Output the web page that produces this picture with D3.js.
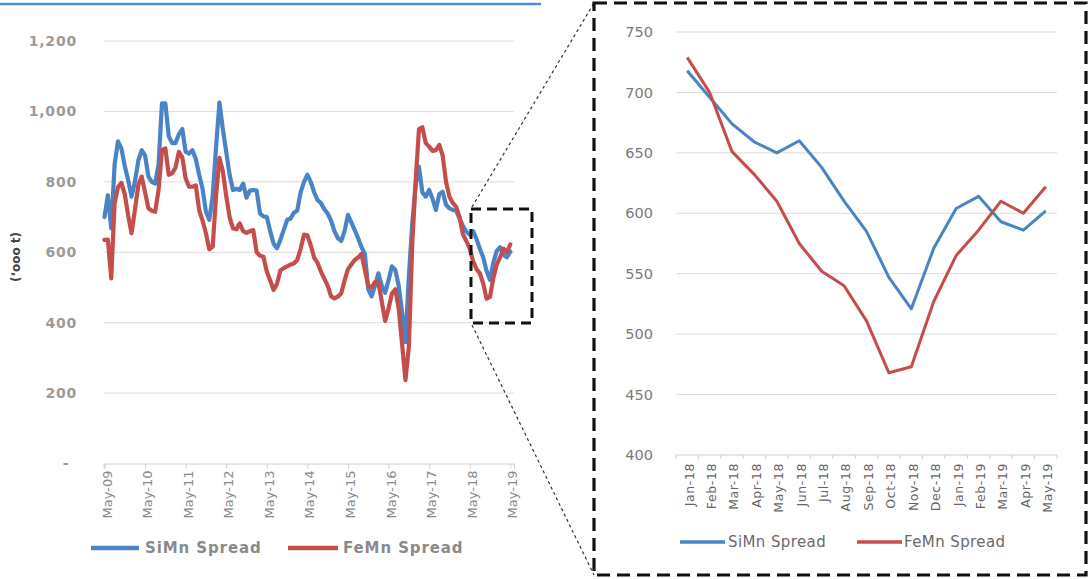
<!DOCTYPE html>
<html>
<head>
<meta charset="utf-8">
<script src="https://cdn.jsdelivr.net/npm/d3@7/dist/d3.min.js"></script>
<style>
  html, body { margin: 0; padding: 0; background: #fff; }
  svg { display: block; }
</style>
</head>
<body>
<svg id="chart" width="1088" height="579"></svg>
<script>
// ---- Long history: monthly spreads May-09 .. Dec-17 ('000 t) ----
const historySiMn = [
  700, 762, 668, 850, 915, 895, 845, 805, 758, 800,
  860, 890, 875, 815, 800, 795, 850, 1023, 1023, 930,
  910, 910, 935, 950, 885, 880, 890, 865, 820, 780,
  715, 692, 760, 900, 1025, 950, 885, 820, 777, 780,
  777, 795, 755, 775, 777, 775, 710, 702, 700, 660,
  625, 611, 635, 663, 692, 695, 712, 718, 770, 800,
  820, 800, 770, 748, 740, 722, 710, 690, 660, 640,
  632, 660, 706, 685, 663, 640, 615, 595, 495, 475,
  505, 540, 505, 485, 520, 560, 550, 505, 430, 345,
  530, 680, 790, 843, 770, 758, 777, 752, 720, 765,
  772, 735, 725, 720
];
const historyFeMn = [
  635, 636, 526, 740, 785, 797, 765, 705, 654, 720,
  790, 815, 770, 725, 718, 715, 777, 890, 895, 820,
  824, 840, 885, 870, 810, 786, 786, 790, 720, 690,
  654, 608, 616, 760, 868, 830, 760, 700, 668, 665,
  682, 660, 655, 660, 663, 600, 590, 587, 545, 520,
  493, 510, 548, 555, 560, 565, 568, 578, 610, 650,
  648, 620, 585, 570, 545, 525, 505, 475, 469, 474,
  483, 520, 552, 565, 578, 585, 595, 550, 505, 500,
  515, 515, 460, 405, 440, 483, 495, 440, 340, 237,
  330, 620, 800, 950, 955, 910, 900, 888, 890, 905,
  875, 800, 758, 740
];

// ---- Recent window: Jan-18 .. May-19 ----
const recentMonths = ["Jan-18","Feb-18","Mar-18","Apr-18","May-18","Jun-18","Jul-18","Aug-18",
  "Sep-18","Oct-18","Nov-18","Dec-18","Jan-19","Feb-19","Mar-19","Apr-19","May-19"];
const recentSiMn = [718, 696, 674, 659, 650, 660, 638, 610, 585, 547, 521, 571, 604, 614, 593, 586, 602];
const recentFeMn = [729, 700, 651, 632, 610, 575, 552, 540, 511, 468, 473, 527, 565, 586, 610, 600, 622];

const yearLabels = ["May-09","May-10","May-11","May-12","May-13","May-14","May-15",
  "May-16","May-17","May-18","May-19"];
const leftYTicks = [0, 200, 400, 600, 800, 1000, 1200];
const rightYTicks = [400, 450, 500, 550, 600, 650, 700, 750];
const seriesNames = ["SiMn Spread", "FeMn Spread"];

const fullSiMn = historySiMn.concat(recentSiMn);
const fullFeMn = historyFeMn.concat(recentFeMn);

const BLUE = "#4a84c4";
const RED = "#c44e4b";
const GRID = "#dcdcdc";
const FONT = "DejaVu Sans, Verdana, sans-serif";

const svg = d3.select("#chart");

// header rule above the long chart
svg.append("line").attr("x1", 0).attr("x2", 541).attr("y1", 4).attr("y2", 4)
  .attr("stroke", "#4a8fd8").attr("stroke-width", 2.5);

// ================= Long chart =================
const L = svg.append("g");
const xL = d3.scaleLinear().domain([-0.26, 121.1]).range([103.6, 514]);
const yL = d3.scaleLinear().domain([0, 1200]).range([463.5, 41]);

L.append("g").selectAll("line").data(leftYTicks.filter(d => d > 0)).join("line")
  .attr("x1", 103.6).attr("x2", 514)
  .attr("y1", d => yL(d)).attr("y2", d => yL(d))
  .attr("stroke", GRID).attr("stroke-width", 1);

L.append("g").selectAll("text").data(leftYTicks).join("text")
  .attr("x", d => d === 0 ? 66 : 77)
  .attr("y", d => yL(d))
  .attr("dy", "0.35em")
  .attr("text-anchor", d => d === 0 ? "middle" : "end")
  .attr("font-family", FONT).attr("font-size", 14).attr("font-weight", "bold")
  .attr("letter-spacing", "0.8px")
  .attr("fill", "#9a9a9a")
  .text(d => d === 0 ? "-" : d3.format(",")(d));

L.append("text")
  .attr("transform", "translate(20,257) rotate(-90)")
  .attr("text-anchor", "middle")
  .attr("font-family", FONT).attr("font-size", 12).attr("font-weight", "bold")
  .attr("fill", "#444")
  .text("(\u2018ooo t)");

const xAxisL = d3.axisBottom(xL)
  .tickValues(d3.range(0, 121, 12))
  .tickSize(5)
  .tickFormat((d, i) => yearLabels[i]);
const gxL = L.append("g").attr("transform", `translate(0,${yL(0)})`).call(xAxisL);
gxL.select(".domain").attr("stroke", "#d0d0d0");
gxL.selectAll(".tick line").attr("stroke", "#d0d0d0");
gxL.selectAll(".tick text")
  .attr("transform", "rotate(-90)")
  .attr("text-anchor", "end")
  .attr("x", -7).attr("y", 2).attr("dy", "0.35em")
  .attr("font-family", FONT).attr("font-size", 13)
  .attr("fill", "#8a8a8a");

const lineL = d3.line().x((d, i) => xL(i)).y(d => yL(d));
L.append("path").datum(fullSiMn).attr("d", lineL)
  .attr("fill", "none").attr("stroke", BLUE).attr("stroke-width", 4.2)
  .attr("stroke-linejoin", "round").attr("stroke-linecap", "round");
L.append("path").datum(fullFeMn).attr("d", lineL)
  .attr("fill", "none").attr("stroke", RED).attr("stroke-width", 4.2)
  .attr("stroke-linejoin", "round").attr("stroke-linecap", "round");

// legend of the long chart
const legL = L.append("g").attr("transform", "translate(0,548)");
[[91, 139, 145, BLUE], [288, 338, 343, RED]].forEach((p, k) => {
  legL.append("line").attr("x1", p[0]).attr("x2", p[1]).attr("y1", 0).attr("y2", 0)
    .attr("stroke", p[3]).attr("stroke-width", 4.5);
  legL.append("text").attr("x", p[2]).attr("y", 0).attr("dy", "0.35em")
    .attr("font-family", FONT).attr("font-size", 15).attr("font-weight", "bold")
    .attr("letter-spacing", "0.9px").attr("fill", "#8a8a8a")
    .text(seriesNames[k]);
});

// highlight box around the recent window and the connector lines
svg.append("rect").attr("x", 471).attr("y", 209).attr("width", 61).attr("height", 114)
  .attr("fill", "none").attr("stroke", "#111").attr("stroke-width", 3)
  .attr("stroke-dasharray", "10,6");
svg.append("line").attr("x1", 472).attr("y1", 207).attr("x2", 594).attr("y2", 3)
  .attr("stroke", "#333").attr("stroke-width", 1.2).attr("stroke-dasharray", "3,3");
svg.append("line").attr("x1", 472).attr("y1", 325).attr("x2", 594).attr("y2", 575)
  .attr("stroke", "#333").attr("stroke-width", 1.2).attr("stroke-dasharray", "3,3");

// ================= Recent window chart =================
svg.append("rect").attr("x", 594).attr("y", 3).attr("width", 492).attr("height", 572)
  .attr("fill", "none").attr("stroke", "#111").attr("stroke-width", 3.2)
  .attr("stroke-dasharray", "13,7");

const R = svg.append("g");
const xR = d3.scaleBand().domain(recentMonths).range([676, 1057]).paddingInner(0).paddingOuter(0);
const yR = d3.scaleLinear().domain([400, 750]).range([455, 32]);
const cx = m => xR(m) + xR.bandwidth() / 2;

R.append("g").selectAll("line").data(rightYTicks.filter(d => d > 400)).join("line")
  .attr("x1", 676).attr("x2", 1057)
  .attr("y1", d => yR(d)).attr("y2", d => yR(d))
  .attr("stroke", GRID).attr("stroke-width", 1);

R.append("g").selectAll("text").data(rightYTicks).join("text")
  .attr("x", 653).attr("y", d => yR(d)).attr("dy", "0.35em")
  .attr("text-anchor", "end")
  .attr("font-family", FONT).attr("font-size", 14.5)
  .attr("fill", "#7a7a7a")
  .text(d => d);

// bottom axis with ticks between categories
R.append("line").attr("x1", 676).attr("x2", 1057).attr("y1", yR(400)).attr("y2", yR(400))
  .attr("stroke", "#cfcfcf");
R.append("g").selectAll("line").data(recentMonths.concat(["end"])).join("line")
  .attr("x1", (d, i) => 676 + i * xR.bandwidth())
  .attr("x2", (d, i) => 676 + i * xR.bandwidth())
  .attr("y1", yR(400)).attr("y2", yR(400) + 4)
  .attr("stroke", "#cfcfcf");
R.append("g").selectAll("text").data(recentMonths).join("text")
  .attr("transform", d => `translate(${cx(d) + 2},${yR(400) + 8}) rotate(-90)`)
  .attr("text-anchor", "end").attr("dy", "0.35em")
  .attr("font-family", FONT).attr("font-size", 12.5)
  .attr("letter-spacing", "0.6px")
  .attr("fill", "#666")
  .text(d => d);

const lineR = d3.line().x((d, i) => cx(recentMonths[i])).y(d => yR(d));
R.append("path").datum(recentSiMn).attr("d", lineR)
  .attr("fill", "none").attr("stroke", BLUE).attr("stroke-width", 3)
  .attr("stroke-linejoin", "round");
R.append("path").datum(recentFeMn).attr("d", lineR)
  .attr("fill", "none").attr("stroke", RED).attr("stroke-width", 3)
  .attr("stroke-linejoin", "round");

const legR = R.append("g").attr("transform", "translate(0,542)");
[[680, 725, 728, BLUE], [857, 902, 904, RED]].forEach((p, k) => {
  legR.append("line").attr("x1", p[0]).attr("x2", p[1]).attr("y1", 0).attr("y2", 0)
    .attr("stroke", p[3]).attr("stroke-width", 3.5);
  legR.append("text").attr("x", p[2]).attr("y", 0).attr("dy", "0.35em")
    .attr("font-family", FONT).attr("font-size", 15)
    .attr("letter-spacing", "0.4px").attr("fill", "#6a6a6a")
    .text(seriesNames[k]);
});
</script>
</body>
</html>
